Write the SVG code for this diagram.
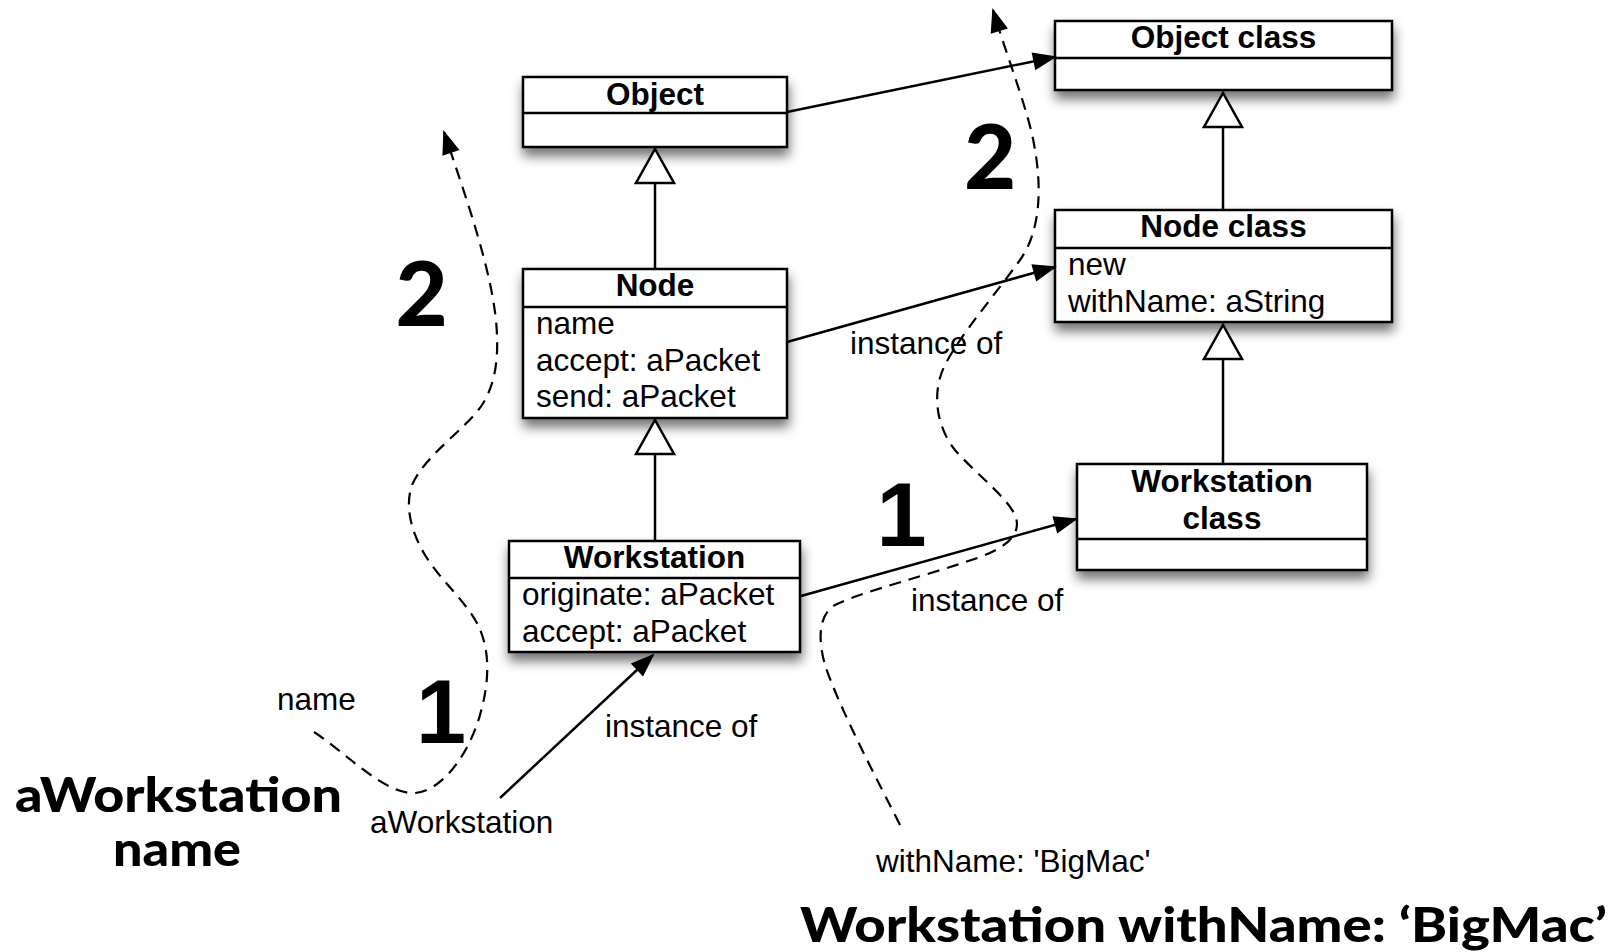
<svg xmlns="http://www.w3.org/2000/svg" width="1613" height="952" viewBox="0 0 1613 952">
<defs>
<filter id="sh" x="-10%" y="-20%" width="120%" height="160%">
<feDropShadow dx="1" dy="8" stdDeviation="6" flood-color="#000" flood-opacity="0.55"/>
</filter>
<marker id="arr" markerUnits="userSpaceOnUse" markerWidth="30" markerHeight="24" viewBox="0 0 30 24" refX="24" refY="12" orient="auto">
<path d="M2,3 L26,12 L2,21 Z" fill="#000"/>
</marker>
<marker id="gen" markerUnits="userSpaceOnUse" markerWidth="44" markerHeight="44" viewBox="0 0 44 44" refX="38" refY="22" orient="auto">
<path d="M38,22 L4,3 L4,41 Z" fill="#fff" stroke="#000" stroke-width="2.5" stroke-linejoin="miter"/>
</marker>
<style>
.box{fill:#fff;stroke:#000;stroke-width:2.5;filter:url(#sh);}
.dv{stroke:#000;stroke-width:2.5;}
.t{font-family:"Liberation Sans",Arial,Helvetica,sans-serif;font-size:31.5px;fill:#000;}
.b{font-weight:bold;text-anchor:middle;}
.big{font-family:Lato,"Liberation Sans",sans-serif;font-weight:900;fill:#000;}
.num{font-family:Lato,"Liberation Sans",sans-serif;font-weight:900;font-size:90px;text-anchor:middle;fill:#000;}
.one{font-family:"Liberation Sans",Arial,sans-serif;font-weight:bold;font-size:90px;text-anchor:middle;fill:#000;}
.conn{stroke:#000;stroke-width:2.5;fill:none;}
.dash{stroke:#000;stroke-width:2.2;fill:none;stroke-dasharray:12 8;}
</style>
</defs>
<rect width="1613" height="952" fill="#fff"/>

<g id="node-object">
<rect class="box" x="523" y="77" width="264" height="70"/>
<line class="dv" x1="523" y1="113" x2="787" y2="113"/>
<text class="t b" x="655" y="105">Object</text>
</g>

<g id="node-object-class">
<rect class="box" x="1055" y="21" width="337" height="69"/>
<line class="dv" x1="1055" y1="58" x2="1392" y2="58"/>
<text class="t b" x="1223.5" y="47.5">Object class</text>
</g>

<g id="node-node">
<rect class="box" x="523" y="269" width="264" height="149"/>
<line class="dv" x1="523" y1="307" x2="787" y2="307"/>
<text class="t b" x="655" y="296">Node</text>
<text class="t" x="536" y="333.5">name</text>
<text class="t" x="536" y="370.5">accept: aPacket</text>
<text class="t" x="536" y="407">send: aPacket</text>
</g>

<g id="node-node-class">
<rect class="box" x="1055" y="210" width="337" height="112"/>
<line class="dv" x1="1055" y1="248" x2="1392" y2="248"/>
<text class="t b" x="1223.5" y="237">Node class</text>
<text class="t" x="1068" y="275">new</text>
<text class="t" x="1068" y="311.5">withName: aString</text>
</g>

<g id="node-workstation">
<rect class="box" x="509" y="541" width="291" height="111"/>
<line class="dv" x1="509" y1="578" x2="800" y2="578"/>
<text class="t b" x="654.5" y="568">Workstation</text>
<text class="t" x="522" y="605">originate: aPacket</text>
<text class="t" x="522" y="642">accept: aPacket</text>
</g>

<g id="node-workstation-class">
<rect class="box" x="1077" y="464" width="290" height="106"/>
<line class="dv" x1="1077" y1="539" x2="1367" y2="539"/>
<text class="t b" x="1222" y="492">Workstation</text>
<text class="t b" x="1222" y="528.5">class</text>
</g>

<g id="connectors">
<line class="conn" x1="655" y1="269" x2="655" y2="149" marker-end="url(#gen)"/>
<line class="conn" x1="655" y1="541" x2="655" y2="420" marker-end="url(#gen)"/>
<line class="conn" x1="1223" y1="210" x2="1223" y2="93" marker-end="url(#gen)"/>
<line class="conn" x1="1223" y1="464" x2="1223" y2="325" marker-end="url(#gen)"/>
<line class="conn" x1="787" y1="112" x2="1055" y2="57" marker-end="url(#arr)"/>
<line class="conn" x1="787" y1="342" x2="1055" y2="267" marker-end="url(#arr)"/>
<line class="conn" x1="801" y1="596" x2="1076" y2="519" marker-end="url(#arr)"/>
<line class="conn" x1="500" y1="798" x2="653" y2="655" marker-end="url(#arr)"/>
<path class="dash" d="M314,732 C345,752 385,795 415,793 C445,790 470,750 480,715 C490,680 490,650 478,625 C465,600 440,580 425,555 C410,530 405,505 412,485 C425,455 465,430 482,405 C495,385 498,360 497,337 C496,280 465,195 444,132" marker-end="url(#arr)"/>
<path class="dash" d="M900,825 C880,785 840,710 825,665 C818,640 818,615 835,605 C860,592 930,575 980,557 C1010,546 1022,532 1015,515 C1005,495 975,473 955,450 C935,425 932,390 945,365 C960,335 995,295 1020,260 C1040,232 1042,190 1035,150 C1030,115 1008,60 993,10" marker-end="url(#arr)"/>
<text class="t" x="850" y="354">instance of</text>
<text class="t" x="911" y="611">instance of</text>
<text class="t" x="605" y="737">instance of</text>
</g>

<g id="labels">
<text class="t" x="277" y="710">name</text>
<text class="t" x="370" y="833">aWorkstation</text>
<text class="t" x="876" y="872">withName: 'BigMac'</text>
<text class="num" x="421.5" y="326">2</text>
<text class="num" x="990" y="189">2</text>
<text class="one" x="441" y="743">1</text>
<text class="one" x="901.5" y="546">1</text>
<text class="big" x="15" y="812" font-size="47" textLength="327" lengthAdjust="spacingAndGlyphs">aWorkstation</text>
<text class="big" x="113" y="866" font-size="47" textLength="128" lengthAdjust="spacingAndGlyphs">name</text>
<text class="big" x="800" y="942" font-size="47" textLength="807" lengthAdjust="spacingAndGlyphs">Workstation withName: ‘BigMac’</text>
</g>
</svg>
